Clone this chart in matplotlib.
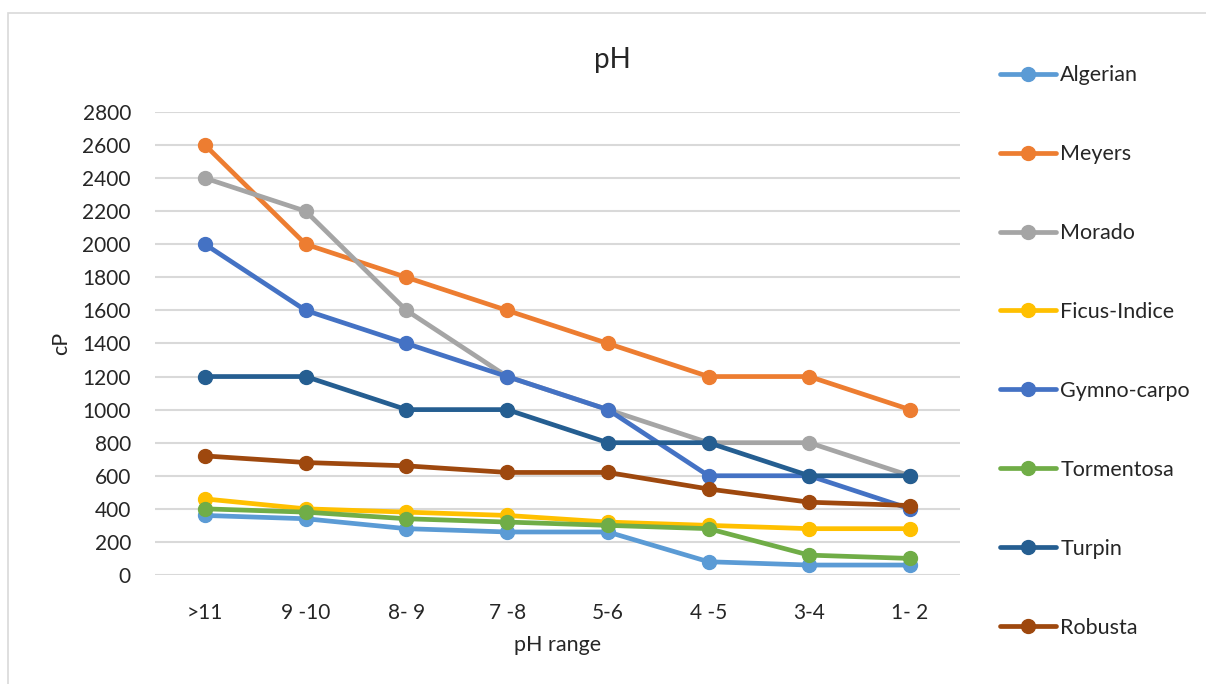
import matplotlib.pyplot as plt
from matplotlib.patches import Rectangle

plt.rcParams['font.family'] = ['Lato', 'DejaVu Sans']

# pH ranges on the x axis
ph_ranges = [">11", "9 -10", "8- 9", "7 -8", "5-6", "4 -5", "3-4", "1- 2"]

# viscosity (cP) per cactus variety
algerian = [360, 340, 280, 260, 260, 80, 60, 60]
meyers = [2600, 2000, 1800, 1600, 1400, 1200, 1200, 1000]
morado = [2400, 2200, 1600, 1200, 1000, 800, 800, 600]
ficus_indice = [460, 400, 380, 360, 320, 300, 280, 280]
gymno_carpo = [2000, 1600, 1400, 1200, 1000, 600, 600, 400]
tormentosa = [400, 380, 340, 320, 300, 280, 120, 100]
turpin = [1200, 1200, 1000, 1000, 800, 800, 600, 600]
robusta = [720, 680, 660, 620, 620, 520, 440, 420]

series = [
    ("Algerian", algerian, "#5B9BD5"),
    ("Meyers", meyers, "#ED7D31"),
    ("Morado", morado, "#A5A5A5"),
    ("Ficus-Indice", ficus_indice, "#FFC000"),
    ("Gymno-carpo", gymno_carpo, "#4472C4"),
    ("Tormentosa", tormentosa, "#70AD47"),
    ("Turpin", turpin, "#255E91"),
    ("Robusta", robusta, "#9E480E"),
]

fig = plt.figure(figsize=(12.06, 6.84), dpi=100)
ax = fig.add_axes([0.1282, 0.1594, 0.6681, 0.6769])

# chart frame
fig.patches.append(Rectangle((8 / 1206, -0.1), 1.2, 1 - 13 / 684 + 0.1,
                             transform=fig.transFigure, fill=False,
                             edgecolor="#d9d9d9", linewidth=1.2))

x = [i + 0.5 for i in range(len(ph_ranges))]
for name, vals, col in series:
    ax.plot(x, vals, color=col, linewidth=3.4, marker="o", markersize=10,
            label=name, solid_capstyle="round")

ax.set_xlim(0, len(ph_ranges))
ax.set_ylim(0, 2800)
ax.set_yticks(range(0, 2801, 200))
ax.set_xticks(x)
ax.set_xticklabels(ph_ranges)
ax.tick_params(axis="both", length=0, labelsize=15, colors="#262626")
ax.tick_params(axis="y", pad=17)
ax.tick_params(axis="x", pad=20)
ax.grid(axis="y", color="#d9d9d9", linewidth=1.5)
ax.set_axisbelow(True)
for s in ax.spines.values():
    s.set_visible(False)

ax.set_xlabel("pH range", fontsize=15.5, color="#262626", labelpad=9)
ax.set_ylabel("cP", fontsize=15.5, color="#262626", labelpad=8)
fig.text(612 / 1206, 1 - 60 / 684, "pH", fontsize=20, color="#262626",
         ha="center", va="center")

fig.legend(loc="upper left", bbox_to_anchor=(981 / 1206, 1 - 46 / 684),
           frameon=False, fontsize=15.5, labelspacing=2.735, handlelength=2.6,
           handletextpad=0.18, labelcolor="#262626")

fig.savefig("out.png", dpi=100)
